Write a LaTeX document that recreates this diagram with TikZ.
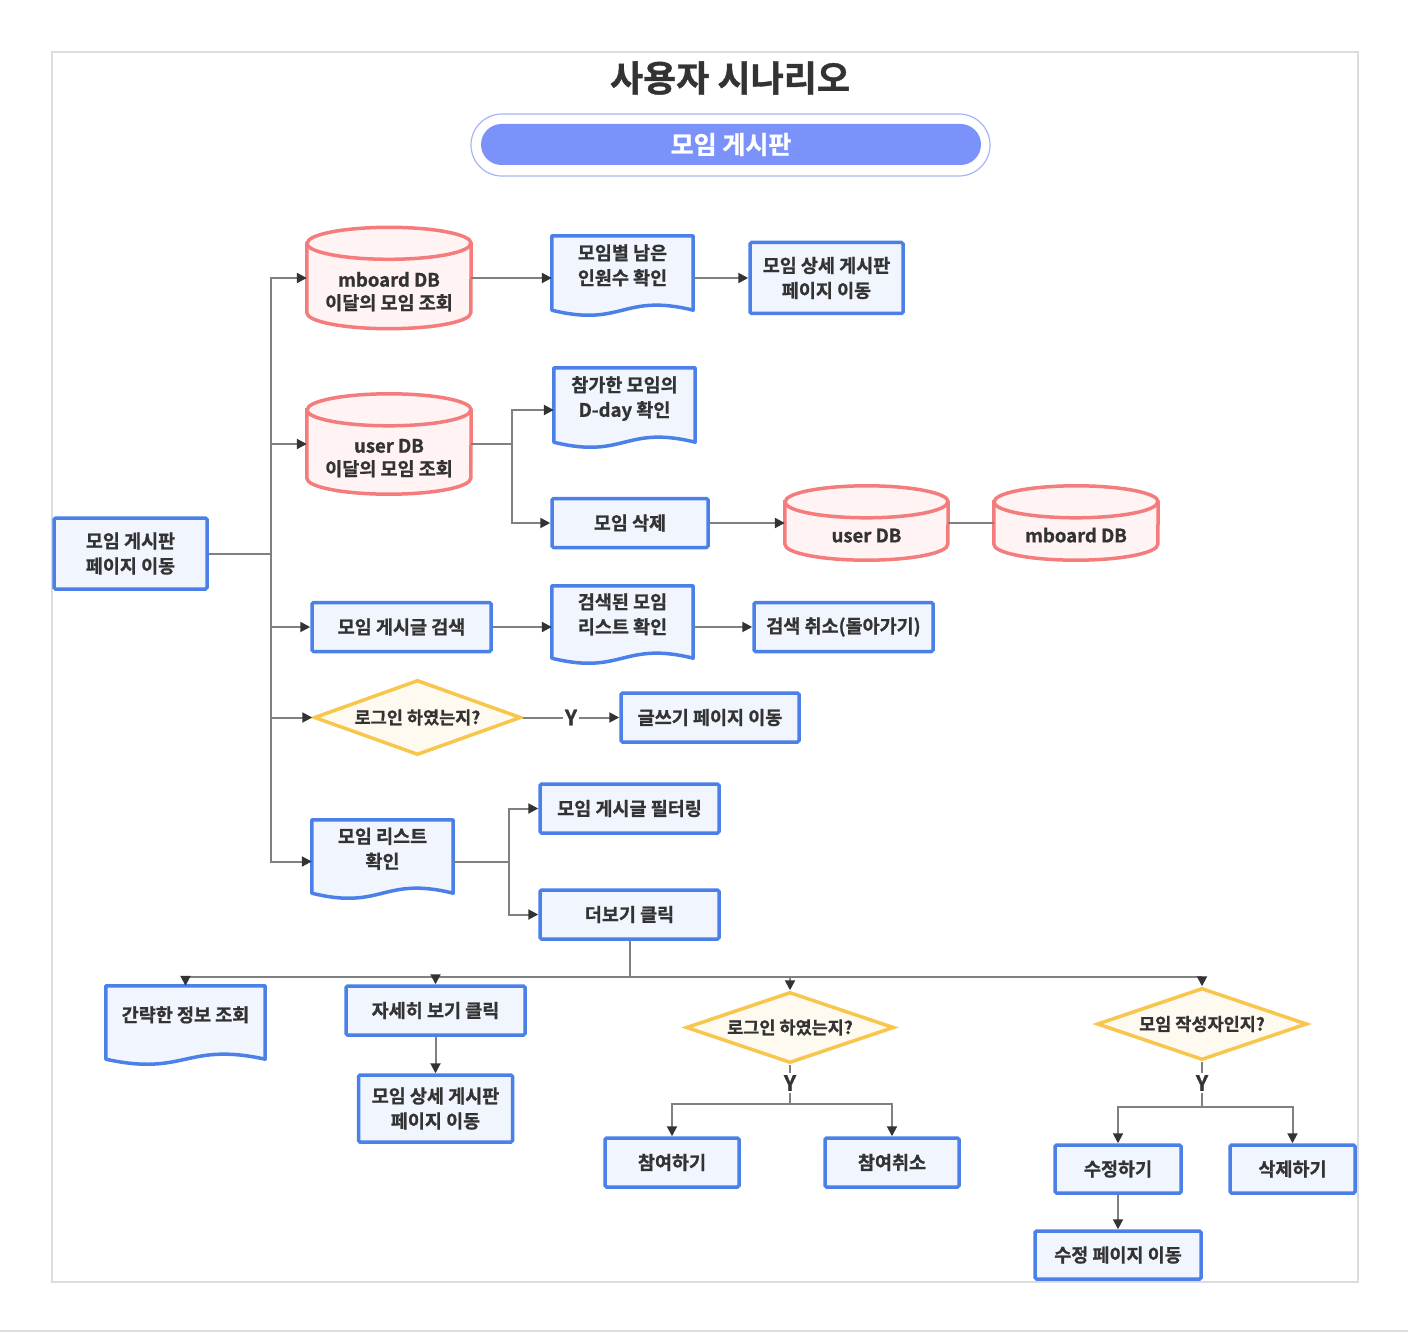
\documentclass[tikz,border=0pt]{standalone}
\usepackage{fontspec}
\setmainfont{Noto Sans CJK KR}[BoldFont={Noto Sans CJK KR Bold},BoldFeatures={FakeBold=1}]
\usetikzlibrary{arrows.meta,shapes.geometric,calc}
\definecolor{boxblue}{RGB}{74,128,232}
\definecolor{boxfill}{RGB}{241,245,254}
\definecolor{dbred}{RGB}{244,124,124}
\definecolor{dbfill}{RGB}{255,243,243}
\definecolor{decgold}{RGB}{248,198,76}
\definecolor{decfill}{RGB}{255,250,240}
\definecolor{hdrblue}{RGB}{122,146,250}
\definecolor{hdrline}{RGB}{165,181,245}
\definecolor{txtgray}{RGB}{51,51,51}
\definecolor{linegray}{RGB}{128,128,128}
\definecolor{framegray}{RGB}{220,220,220}
\pgfdeclarelayer{background}
\pgfsetlayers{background,main}

% cylinder outline round a node: node, x radius
\newcommand{\dbshape}[2]{%
  \begin{pgfonlayer}{background}
  \draw[dbline] ($(#1.north west)+(0,-16)$) -- ($(#1.south west)+(0,16)$)
    arc[start angle=180,end angle=360,x radius=#2,y radius=16] -- ($(#1.north east)+(0,-16)$)
    arc[start angle=0,end angle=180,x radius=#2,y radius=16] -- cycle;
  \draw[dbline,fill=none] ($(#1.north west)+(0,-16)$)
    arc[start angle=180,end angle=360,x radius=#2,y radius=16];
  \end{pgfonlayer}}
% document outline (wavy bottom) round a node
\newcommand{\docshape}[1]{%
  \begin{pgfonlayer}{background}
  \draw[docline] (#1.north west) -- (#1.north east) -- ($(#1.south east)+(0,10)$)
    .. controls ($(#1.south)+(0,27.5)$) and ($(#1.south)+(0,-7.5)$) .. ($(#1.south west)+(0,10)$) -- cycle;
  \end{pgfonlayer}}
\newcommand{\dbtop}{\rule{0pt}{42pt}}

\begin{document}
\begin{tikzpicture}[x=1pt,y=1pt,
    box/.style={draw=boxblue,fill=boxfill,line width=3.5pt,rounded corners=1.5pt,
                minimum height=49pt,inner sep=0pt,align=center,text=txtgray,
                font=\bfseries\fontsize{18.5}{25}\selectfont},
    doc/.style={inner sep=0pt,align=center,text=txtgray,text depth=27pt,
                font=\bfseries\fontsize{18.5}{25}\selectfont},
    db/.style={inner sep=0pt,align=center,text=txtgray,
                font=\bfseries\fontsize{18.5}{23}\selectfont},
    dbone/.style={db,text height=39pt},
    dec/.style={diamond,aspect=2.8,draw=decgold,fill=decfill,line width=3.5pt,
                inner sep=0pt,text=txtgray,font=\bfseries\fontsize{17.5}{20}\selectfont},
    ylab/.style={inner sep=2pt,text=txtgray,font=\bfseries\fontsize{21}{21}\selectfont},
    docline/.style={draw=boxblue,fill=boxfill,line width=3.5pt,line join=round},
    dbline/.style={draw=dbred,fill=dbfill,line width=3.5pt},
    conn/.style={draw=linegray,line width=2pt},
    arr/.style={conn,-{Triangle[length=10pt,width=10pt,color=txtgray]}}]
  \useasboundingbox (0,0) rectangle (1408,-1332);
  \begin{pgfonlayer}{background}
    \draw[framegray,line width=2pt] (52,-52) rectangle (1358,-1282);
    \draw[framegray,line width=1.5pt] (0,-1331) -- (1408,-1331);
  \end{pgfonlayer}

  % title and header
  \node[text=txtgray,font=\bfseries\fontsize{36}{36}\selectfont] (title) at (730,-78) {사용자 시나리오};
  \node[draw=hdrline,line width=1.2pt,rounded corners=31pt,minimum width=519pt,minimum height=62pt] (hdrring) at (730.5,-145) {};
  \node[fill=hdrblue,rounded corners=20.5pt,minimum width=500pt,minimum height=41pt,
        text=white,font=\bfseries\fontsize{25}{25}\selectfont] (hdr) at (731,-144.5) {모임 게시판};

  % upper flow
  \node[box,minimum width=153pt,minimum height=71pt] (board) at (130.5,-553.5) {모임 게시판\\페이지 이동};
  \node[db,minimum width=164pt,minimum height=101pt] (mdbq) at (389,-278) {\dbtop mboard DB\\이달의 모임 조회};
  \node[doc,minimum width=141pt,minimum height=84pt] (seats) at (622.5,-278) {모임별 남은\\인원수 확인};
  \node[box,minimum width=153pt,minimum height=71pt] (detail) at (826.5,-278) {모임 상세 게시판\\페이지 이동};
  \node[db,minimum width=164pt,minimum height=100pt] (udbq) at (389,-444) {\dbtop user DB\\이달의 모임 조회};
  \node[doc,minimum width=141pt,minimum height=84pt] (dday) at (624.5,-410) {참가한 모임의\\D-day 확인};
  \node[box,minimum width=156pt] (delete) at (630,-523) {모임 삭제};
  \node[dbone,minimum width=163pt,minimum height=74pt] (udb) at (866.5,-523) {user DB};
  \node[dbone,minimum width=164pt,minimum height=74pt] (mdb) at (1076,-523) {mboard DB};
  \node[box,minimum width=179pt] (search) at (401.5,-627) {모임 게시글 검색};
  \node[doc,minimum width=141pt,minimum height=82pt] (found) at (622.5,-627) {검색된 모임\\리스트 확인};
  \node[box,minimum width=179pt] (back) at (843.5,-627) {검색 취소(돌아가기)};
  \node[dec,minimum width=207pt,minimum height=75pt] (login) at (417.5,-717.5) {로그인 하였는지?};
  \node[ylab] (yes1) at (571,-717.5) {Y};
  \node[box,minimum width=178pt] (write) at (710,-717.5) {글쓰기 페이지 이동};
  \node[doc,minimum width=141pt,minimum height=83pt] (list) at (382.5,-861.5) {모임 리스트\\확인};
  \node[box,minimum width=179pt] (filter) at (629.5,-808.5) {모임 게시글 필터링};
  \node[box,minimum width=179pt] (more) at (629.5,-914.5) {더보기 클릭};

  % lower flow
  \node[doc,minimum width=159pt,minimum height=83pt] (brief) at (185.5,-1027.5) {간략한 정보 조회};
  \node[box,minimum width=179pt] (view) at (435.5,-1010.5) {자세히 보기 클릭};
  \node[box,minimum width=154pt,minimum height=67pt] (detail2) at (435.5,-1108.5) {모임 상세 게시판\\페이지 이동};
  \node[dec,minimum width=208pt,minimum height=71pt] (login2) at (790,-1027.5) {로그인 하였는지?};
  \node[ylab] (yes2) at (790,-1083) {Y};
  \node[box,minimum width=134pt] (join) at (672,-1162.5) {참여하기};
  \node[box,minimum width=134pt] (quit) at (892,-1162.5) {참여취소};
  \node[dec,minimum width=210pt,minimum height=72pt] (owner) at (1202,-1024) {모임 작성자인지?};
  \node[ylab] (yes3) at (1202,-1083) {Y};
  \node[box,minimum width=126pt,minimum height=48pt] (edit) at (1118,-1169) {수정하기};
  \node[box,minimum width=125pt,minimum height=48pt] (remove) at (1292.5,-1169) {삭제하기};
  \node[box,minimum width=166pt,minimum height=48pt] (editpage) at (1118,-1255) {수정 페이지 이동};

  \foreach \n in {seats,dday,found,list,brief} {\docshape{\n}}
  \dbshape{mdbq}{82} \dbshape{udbq}{82} \dbshape{udb}{81.5} \dbshape{mdb}{82}

  % connectors
  \coordinate (trunk) at (271,-553.5);
  \draw[conn] (board.east) -- (trunk);
  \foreach \t in {mdbq,udbq,search,login,list} \draw[arr] (trunk) |- (\t.west);
  \draw[arr] (mdbq.east) -- (seats.west);
  \draw[arr] (seats.east) -- (detail.west);
  \coordinate (split1) at (512,-444);
  \draw[conn] (udbq.east) -- (split1);
  \draw[arr] (split1) |- (dday.west);
  \draw[arr] (split1) |- (delete.west);
  \draw[arr] (delete.east) -- (udb.west);
  \draw[conn] (udb.east) -- (mdb.west);
  \draw[arr] (search.east) -- (found.west);
  \draw[arr] (found.east) -- (back.west);
  \draw[conn] (login.east) -- (yes1.west);
  \draw[arr] (yes1.east) -- (write.west);
  \coordinate (split2) at (509,-861.5);
  \draw[conn] (list.east) -- (split2);
  \draw[arr] (split2) |- (filter.west);
  \draw[arr] (split2) |- (more.west);

  \coordinate (bus) at (629.5,-977);
  \draw[conn] (more.south) -- (bus);
  \foreach \t in {brief,view,login2,owner} \draw[arr] (bus) -| (\t.north);
  \draw[arr] (view.south) -- (detail2.north);
  \draw[conn] (login2.south) -- (yes2.north);
  \coordinate (split3) at (790,-1104);
  \draw[conn] (yes2.south) -- (split3);
  \draw[arr] (split3) -| (join.north);
  \draw[arr] (split3) -| (quit.north);
  \draw[conn] (owner.south) -- (yes3.north);
  \coordinate (split4) at (1202,-1107);
  \draw[conn] (yes3.south) -- (split4);
  \draw[arr] (split4) -| (edit.north);
  \draw[arr] (split4) -| (remove.north);
  \draw[arr] (edit.south) -- (editpage.north);
\end{tikzpicture}
\end{document}
